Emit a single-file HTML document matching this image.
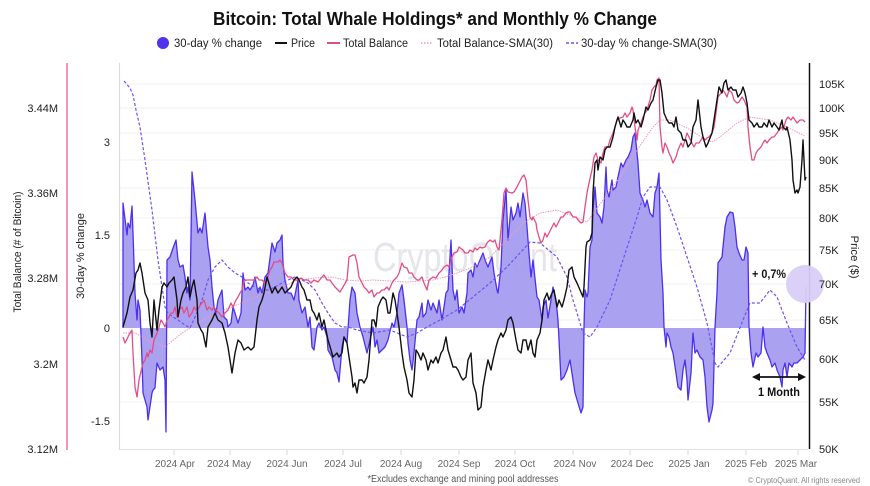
<!DOCTYPE html>
<html><head><meta charset="utf-8"><style>
html,body{margin:0;padding:0;background:#fff;}
svg{display:block;font-family:"Liberation Sans",sans-serif;}
</style></head><body>
<svg width="870" height="486" viewBox="0 0 870 486" xmlns="http://www.w3.org/2000/svg">
<rect width="870" height="486" fill="#fff"/>
<!-- Title -->
<text x="213" y="25" font-size="18" font-weight="bold" fill="#111" textLength="444" lengthAdjust="spacingAndGlyphs">Bitcoin: Total Whale Holdings* and Monthly % Change</text>
<!-- Legend -->
<circle cx="163" cy="43" r="6" fill="#4f32ec"/>
<text x="174" y="47" font-size="11.5" fill="#222" textLength="88" lengthAdjust="spacingAndGlyphs">30-day % change</text>
<line x1="275" y1="43" x2="287" y2="43" stroke="#111" stroke-width="2"/>
<text x="291" y="47" font-size="11.5" fill="#222" textLength="24" lengthAdjust="spacingAndGlyphs">Price</text>
<line x1="327" y1="43" x2="340" y2="43" stroke="#e24d86" stroke-width="2"/>
<text x="343" y="47" font-size="11.5" fill="#222" textLength="65" lengthAdjust="spacingAndGlyphs">Total Balance</text>
<line x1="421" y1="43" x2="433" y2="43" stroke="#ef9ab8" stroke-width="1.5" stroke-dasharray="1.5 1.5"/>
<text x="437" y="47" font-size="11.5" fill="#222" textLength="116" lengthAdjust="spacingAndGlyphs">Total Balance-SMA(30)</text>
<line x1="566" y1="43" x2="578" y2="43" stroke="#6a55f0" stroke-width="1.5" stroke-dasharray="3 2"/>
<text x="581" y="47" font-size="11.5" fill="#222" textLength="136" lengthAdjust="spacingAndGlyphs">30-day % change-SMA(30)</text>

<!-- gridlines -->
<g stroke="#f1f1f3" stroke-width="1">
<line x1="120" y1="84" x2="808" y2="84"/>
<line x1="120" y1="108" x2="808" y2="108"/>
<line x1="120" y1="133" x2="808" y2="133"/>
<line x1="120" y1="160" x2="808" y2="160"/>
<line x1="120" y1="188" x2="808" y2="188"/>
<line x1="120" y1="218" x2="808" y2="218"/>
<line x1="120" y1="250" x2="808" y2="250"/>
<line x1="120" y1="284" x2="808" y2="284"/>
<line x1="120" y1="320" x2="808" y2="320"/>
<line x1="120" y1="359" x2="808" y2="359"/>
<line x1="120" y1="402" x2="808" y2="402"/>
</g>
<!-- axes -->
<line x1="119.5" y1="63" x2="119.5" y2="450" stroke="#dcdce0" stroke-width="1.2"/>
<line x1="120" y1="449.5" x2="808" y2="449.5" stroke="#e2e2e6" stroke-width="1"/>
<g stroke="#d8d8dc" stroke-width="1">
<line x1="174" y1="450" x2="174" y2="455"/><line x1="230" y1="450" x2="230" y2="455"/><line x1="287" y1="450" x2="287" y2="455"/><line x1="343" y1="450" x2="343" y2="455"/><line x1="401" y1="450" x2="401" y2="455"/><line x1="459" y1="450" x2="459" y2="455"/><line x1="515" y1="450" x2="515" y2="455"/><line x1="573" y1="450" x2="573" y2="455"/><line x1="630" y1="450" x2="630" y2="455"/><line x1="688" y1="450" x2="688" y2="455"/><line x1="746" y1="450" x2="746" y2="455"/><line x1="798" y1="450" x2="798" y2="455"/>
</g>
<line x1="67" y1="63" x2="67" y2="450" stroke="#e8508a" stroke-width="1.2"/>

<!-- watermark -->
<text x="373" y="271" font-size="41" fill="#dcdce6" fill-opacity="0.75" textLength="184" lengthAdjust="spacingAndGlyphs">CryptoQuant</text>

<!-- percent fill -->
<polygon fill="#a59cf0" fill-opacity="0.95" points="123,328 123,203 127,235 128,223 130,228 132,206 133,233 135,293 137,320 138,300 140,310 142,360 143,393 147,407 148,420 152,393 153,390 155,388 157,363 160,370 163,367 165,380 166,432 167,260 170,257 173,248 176,240 178,260 180,267 183,265 185,277 187,293 188,287 190,300 192,172 195,200 198,233 200,228 202,233 205,213 208,247 210,260 212,287 214,307 216,313 218,300 222,290 224,317 227,320 228,327 231,323 233,307 235,313 238,323 241,313 243,273 245,290 248,287 250,290 253,285 255,277 258,293 260,287 262,293 265,277 268,273 272,243 275,252 277,243 280,240 282,235 283,263 285,280 288,293 291,293 294,300 298,280 299,300 302,313 305,307 308,327 310,317 312,347 314,350 317,327 319,323 322,330 324,327 327,337 328,350 332,357 335,370 337,373 339,382 342,347 344,337 347,343 350,300 352,287 355,293 357,313 360,327 363,337 367,353 370,340 373,327 375,347 377,340 379,353 382,350 385,347 388,340 392,323 394,327 397,313 399,293 402,285 404,300 407,327 408,343 410,360 412,370 414,353 417,320 419,317 422,303 423,317 426,313 428,300 431,310 433,303 437,313 439,300 442,320 444,307 446,293 448,290 451,240 453,290 455,300 457,290 459,313 462,307 464,313 467,293 468,273 471,270 473,277 475,263 477,267 480,260 483,253 485,260 488,267 492,257 494,273 497,290 498,293 501,267 503,220 506,190 508,240 511,207 513,220 516,213 518,203 520,217 523,193 525,203 527,227 529,253 531,277 533,260 537,297 539,300 542,320 543,307 546,300 548,318 551,300 553,287 556,300 558,320 561,380 564,377 567,370 570,360 573,380 575,393 578,403 581,413 583,407 584,327 585,290 587,297 588,293 590,247 592,240 593,210 595,187 597,213 600,217 602,223 604,207 606,167 607,190 609,197 612,180 613,190 616,187 618,177 621,163 623,167 626,160 628,157 631,150 633,137 635,133 637,153 638,163 640,193 643,200 645,207 647,200 650,213 653,217 655,193 657,187 659,173 661,260 663,293 664,327 666,347 667,333 669,337 671,347 673,353 676,373 678,387 681,390 683,370 685,360 687,380 688,400 691,373 693,333 695,353 697,350 700,357 703,360 705,377 707,407 709,422 712,410 713,403 715,327 717,293 718,263 722,257 723,247 725,227 727,217 730,212 733,213 735,227 737,247 739,253 742,260 744,260 746,247 748,253 749,327 751,353 753,367 756,353 758,357 761,353 763,327 765,347 767,353 770,360 772,367 775,363 777,370 780,377 782,387 783,370 785,363 787,377 789,363 792,367 794,363 797,363 800,360 803,357 805,353 806,287 806,328"/>
<polyline fill="none" stroke="#4b30ee" stroke-width="1.3" stroke-linejoin="round" points="123,328 123,203 127,235 128,223 130,228 132,206 133,233 135,293 137,320 138,300 140,310 142,360 143,393 147,407 148,420 152,393 153,390 155,388 157,363 160,370 163,367 165,380 166,432 167,260 170,257 173,248 176,240 178,260 180,267 183,265 185,277 187,293 188,287 190,300 192,172 195,200 198,233 200,228 202,233 205,213 208,247 210,260 212,287 214,307 216,313 218,300 222,290 224,317 227,320 228,327 231,323 233,307 235,313 238,323 241,313 243,273 245,290 248,287 250,290 253,285 255,277 258,293 260,287 262,293 265,277 268,273 272,243 275,252 277,243 280,240 282,235 283,263 285,280 288,293 291,293 294,300 298,280 299,300 302,313 305,307 308,327 310,317 312,347 314,350 317,327 319,323 322,330 324,327 327,337 328,350 332,357 335,370 337,373 339,382 342,347 344,337 347,343 350,300 352,287 355,293 357,313 360,327 363,337 367,353 370,340 373,327 375,347 377,340 379,353 382,350 385,347 388,340 392,323 394,327 397,313 399,293 402,285 404,300 407,327 408,343 410,360 412,370 414,353 417,320 419,317 422,303 423,317 426,313 428,300 431,310 433,303 437,313 439,300 442,320 444,307 446,293 448,290 451,240 453,290 455,300 457,290 459,313 462,307 464,313 467,293 468,273 471,270 473,277 475,263 477,267 480,260 483,253 485,260 488,267 492,257 494,273 497,290 498,293 501,267 503,220 506,190 508,240 511,207 513,220 516,213 518,203 520,217 523,193 525,203 527,227 529,253 531,277 533,260 537,297 539,300 542,320 543,307 546,300 548,318 551,300 553,287 556,300 558,320 561,380 564,377 567,370 570,360 573,380 575,393 578,403 581,413 583,407 584,327 585,290 587,297 588,293 590,247 592,240 593,210 595,187 597,213 600,217 602,223 604,207 606,167 607,190 609,197 612,180 613,190 616,187 618,177 621,163 623,167 626,160 628,157 631,150 633,137 635,133 637,153 638,163 640,193 643,200 645,207 647,200 650,213 653,217 655,193 657,187 659,173 661,260 663,293 664,327 666,347 667,333 669,337 671,347 673,353 676,373 678,387 681,390 683,370 685,360 687,380 688,400 691,373 693,333 695,353 697,350 700,357 703,360 705,377 707,407 709,422 712,410 713,403 715,327 717,293 718,263 722,257 723,247 725,227 727,217 730,212 733,213 735,227 737,247 739,253 742,260 744,260 746,247 748,253 749,327 751,353 753,367 756,353 758,357 761,353 763,327 765,347 767,353 770,360 772,367 775,363 777,370 780,377 782,387 783,370 785,363 787,377 789,363 792,367 794,363 797,363 800,360 803,357 805,353 806,287"/>

<!-- Total balance SMA (dotted pink) -->
<polyline fill="none" stroke="#f09ab9" stroke-width="1" stroke-dasharray="1.5 1" points="123,333 135,333 148,340 165,347 182,333 198,323 215,313 232,307 248,300 265,293 282,287 298,280 315,278 332,277 345,280 360,281 373,280 390,281 407,282 420,281 433,280 445,277 457,273 473,267 490,257 507,240 523,223 540,213 557,210 570,215 587,222 603,200 620,177 637,150 653,127 660,120 670,120 687,128 703,138 712,142 720,137 737,123 750,117 770,120 787,127 805,136"/>

<!-- 30-day % change SMA (dashed blue) -->
<polyline fill="none" stroke="#6a55f0" stroke-width="1.2" stroke-dasharray="3 2" points="124,81 130,88 133,95 136,110 140,127 145,160 152,210 158,260 165,307 168,313 173,317 178,320 185,325 190,328 195,317 202,300 208,280 215,267 222,260 228,267 235,273 242,277 248,283 255,287 262,290 268,290 275,287 282,283 288,280 295,277 302,280 308,283 315,290 322,303 328,313 335,323 342,327 348,327 357,330 373,333 390,330 407,337 417,333 427,327 440,320 457,310 473,297 490,283 507,267 520,253 530,242 540,243 557,257 567,277 573,300 577,313 583,333 590,337 597,327 610,300 623,260 637,217 643,197 650,187 660,187 667,200 677,227 687,257 697,287 707,323 715,363 718,367 730,353 743,320 750,303 760,303 770,290 777,297 787,323 797,347 805,360"/>

<!-- Total balance (pink) -->
<polyline fill="none" stroke="#e24d86" stroke-width="1.3" stroke-linejoin="round" points="123,337 125,343 128,337 130,333 132,330 133,353 135,387 137,397 139,380 142,367 143,363 145,360 147,353 148,357 150,350 152,353 154,340 157,333 159,327 161,320 163,323 165,327 167,320 169,317 171,313 173,313 175,307 177,317 179,310 182,307 184,313 187,307 189,317 192,313 194,307 196,310 199,307 202,303 204,300 207,310 209,307 212,310 214,307 216,310 219,313 222,317 225,313 228,310 231,303 233,307 236,300 238,297 240,293 242,290 244,280 248,280 251,280 254,280 257,277 259,280 262,280 265,283 268,277 270,270 272,267 274,262 278,262 280,260 282,263 285,273 288,277 291,277 294,280 297,280 301,278 304,280 308,280 311,283 314,280 318,282 322,277 324,275 327,280 330,280 332,283 335,287 338,290 340,292 343,287 347,280 349,257 353,255 355,255 357,263 359,277 362,283 364,287 367,290 369,293 372,290 374,297 377,293 379,293 382,290 384,290 387,287 389,290 392,283 394,280 397,277 399,273 402,263 404,267 407,268 409,273 412,273 414,277 417,280 419,280 422,277 424,283 427,290 429,280 433,277 436,278 439,273 442,270 444,267 447,265 449,267 452,257 454,253 457,252 459,247 463,250 465,253 468,253 470,250 473,252 475,248 477,250 480,247 482,248 485,247 487,243 490,240 493,242 495,240 497,247 499,250 502,220 504,193 506,188 508,192 512,193 514,192 517,187 519,183 522,177 524,175 526,180 528,200 530,217 532,220 533,217 536,223 537,230 539,237 541,243 543,240 545,233 547,237 549,233 552,227 554,223 556,227 558,223 561,217 563,217 566,213 568,212 570,212 573,217 576,217 578,220 581,223 583,222 585,207 587,193 589,183 592,170 594,157 596,153 598,160 601,163 603,153 605,147 608,147 610,140 613,133 615,127 617,120 620,118 623,117 625,113 627,117 630,113 632,107 633,110 635,127 637,140 638,130 641,123 643,117 645,113 647,110 650,100 652,90 654,87 656,85 657,80 659,78 660,127 662,147 663,153 665,143 667,147 669,153 671,157 673,163 676,157 678,150 681,143 683,147 685,140 687,133 689,137 692,143 694,147 696,143 699,143 701,140 703,137 705,140 707,138 709,137 712,133 714,127 716,113 718,97 721,93 723,90 725,93 727,97 729,90 732,93 734,100 737,103 739,102 742,97 744,100 747,107 748,127 750,147 752,160 754,160 756,153 758,150 761,147 763,143 765,140 767,143 769,140 772,137 774,137 777,133 779,130 782,127 783,130 786,120 788,117 791,120 793,117 795,120 797,123 800,120 803,120 805,122"/>

<!-- Price (black) -->
<polyline fill="none" stroke="#111" stroke-width="1.4" stroke-linejoin="round" points="123,327 127,313 130,297 133,290 136,273 138,270 140,263 142,273 145,293 148,300 150,323 152,337 154,300 157,330 159,310 162,287 164,283 167,287 169,283 172,280 174,277 177,300 178,317 181,300 183,293 186,287 188,277 190,297 192,287 194,280 197,300 198,323 201,330 203,333 206,347 208,327 212,320 215,313 218,320 222,323 225,333 228,347 232,373 235,353 238,340 241,343 244,350 248,347 251,350 254,347 257,320 259,307 262,300 264,293 267,277 270,287 272,293 275,287 278,293 282,287 285,293 288,290 291,287 294,280 297,277 299,280 302,287 304,290 307,300 310,300 312,310 314,313 317,320 319,313 322,327 324,320 328,340 331,350 333,357 337,353 339,357 342,353 344,337 347,343 349,357 352,377 353,387 355,383 357,393 359,380 362,380 364,383 367,377 369,360 372,320 374,320 376,327 378,307 381,300 383,297 386,300 388,313 390,313 393,293 395,300 397,313 399,327 402,353 404,367 407,380 409,393 412,397 414,380 416,350 418,353 421,360 423,353 426,360 428,370 431,360 433,363 436,357 438,363 441,353 443,350 446,337 448,350 451,360 453,367 456,367 458,370 461,377 463,380 466,377 468,360 471,353 473,383 476,393 478,410 481,407 483,387 486,370 488,360 491,370 493,360 496,347 498,340 501,333 503,337 506,330 508,320 511,317 513,323 516,340 518,350 521,353 523,340 526,340 528,350 531,340 533,353 535,357 537,340 540,333 542,320 544,300 547,293 549,300 552,293 554,290 557,307 559,300 562,307 564,300 567,287 569,270 572,267 574,277 577,283 580,290 583,297 584,287 586,247 587,242 590,240 592,233 593,193 595,163 597,160 598,170 600,157 603,160 605,150 607,147 610,147 613,137 615,127 617,120 618,117 621,127 623,120 625,123 627,127 630,127 633,120 634,113 636,123 638,120 641,127 643,120 646,107 648,110 651,103 653,100 656,87 658,80 660,80 662,93 664,113 667,120 669,123 672,123 674,127 676,117 678,130 681,133 683,140 686,140 688,147 691,143 693,127 696,120 698,100 701,127 703,137 706,147 708,143 712,133 714,120 717,100 719,87 722,93 724,83 726,80 728,90 731,87 733,90 736,90 738,97 741,93 743,87 745,93 747,103 749,120 752,123 754,127 757,123 759,127 762,127 764,123 767,127 769,120 772,127 774,123 777,127 779,130 782,120 783,127 786,130 787,127 790,140 792,160 793,180 795,193 797,190 798,193 800,187 802,160 803,140 804,160 805,180 806,177"/>

<!-- right axis -->
<line x1="809.5" y1="63" x2="809.5" y2="449" stroke="#111" stroke-width="1.5"/>

<!-- annotations -->
<circle cx="805" cy="284" r="19" fill="#d9cef8" fill-opacity="0.95"/>
<text x="752" y="278" font-size="11.5" font-weight="bold" fill="#111" textLength="34" lengthAdjust="spacingAndGlyphs">+ 0,7%</text>
<line x1="758" y1="377" x2="800" y2="377" stroke="#111" stroke-width="1.8"/>
<polygon points="752,377 760,373 760,381" fill="#111"/>
<polygon points="806,377 798,373 798,381" fill="#111"/>
<text x="758" y="396" font-size="11.5" font-weight="bold" fill="#111" textLength="42" lengthAdjust="spacingAndGlyphs">1 Month</text>

<!-- left labels -->
<g font-size="11" fill="#222" text-anchor="end">
<text x="58" y="112">3.44M</text>
<text x="58" y="197">3.36M</text>
<text x="58" y="282">3.28M</text>
<text x="58" y="368">3.2M</text>
<text x="58" y="453">3.12M</text>
<text x="110" y="146">3</text>
<text x="110" y="239">1.5</text>
<text x="110" y="332">0</text>
<text x="110" y="425">-1.5</text>
</g>
<!-- right labels -->
<g font-size="11" fill="#222">
<text x="819" y="88">105K</text>
<text x="819" y="112">100K</text>
<text x="819" y="137">95K</text>
<text x="819" y="164">90K</text>
<text x="819" y="192">85K</text>
<text x="819" y="222">80K</text>
<text x="819" y="254">75K</text>
<text x="819" y="288">70K</text>
<text x="819" y="324">65K</text>
<text x="819" y="363">60K</text>
<text x="819" y="406">55K</text>
<text x="819" y="453">50K</text>
</g>
<!-- axis titles -->
<text transform="translate(21,252) rotate(-90)" font-size="11" fill="#222" text-anchor="middle" textLength="121" lengthAdjust="spacingAndGlyphs">Total Balance (# of Bitcoin)</text>
<text transform="translate(84,256) rotate(-90)" font-size="11" fill="#222" text-anchor="middle" textLength="86" lengthAdjust="spacingAndGlyphs">30-day % change</text>
<text transform="translate(851,257) rotate(90)" font-size="11" fill="#222" text-anchor="middle" textLength="43" lengthAdjust="spacingAndGlyphs">Price ($)</text>

<!-- x labels -->
<g font-size="10" fill="#666" text-anchor="middle">
<text x="175" y="467">2024 Apr</text>
<text x="229" y="467">2024 May</text>
<text x="287" y="467">2024 Jun</text>
<text x="343" y="467">2024 Jul</text>
<text x="401" y="467">2024 Aug</text>
<text x="459" y="467">2024 Sep</text>
<text x="515" y="467">2024 Oct</text>
<text x="575" y="467">2024 Nov</text>
<text x="632" y="467">2024 Dec</text>
<text x="689" y="467">2025 Jan</text>
<text x="746" y="467">2025 Feb</text>
<text x="796" y="467">2025 Mar</text>
</g>
<text x="463" y="482" font-size="10" fill="#555" text-anchor="middle" textLength="191" lengthAdjust="spacingAndGlyphs">*Excludes exchange and mining pool addresses</text>
<text x="748" y="483" font-size="8" fill="#888" textLength="112" lengthAdjust="spacingAndGlyphs">© CryptoQuant. All rights reserved</text>
</svg>
</body></html>
